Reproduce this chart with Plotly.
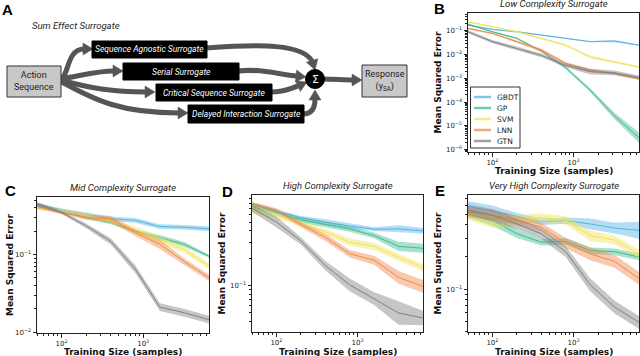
import math
import plotly.graph_objects as go

W, H = 640, 356

# training sizes (samples)
sizes = [50, 100, 200, 400, 800, 1600, 3200, 6400]
models = ["GBDT", "GP", "SVM", "LNN", "GTN"]
colors = {"GBDT": "#55B3E6", "GP": "#3DBB8F", "SVM": "#F2E35A", "LNN": "#F0884A", "GTN": "#808080"}

# mean squared error
low_mse = {
    "GBDT": [0.174, 0.115, 0.091, 0.066, 0.048, 0.035, 0.037, 0.025],
    "GP":   [0.19, 0.091, 0.048, 0.014, 0.0028, 3.2e-4, 2.6e-5, 3.2e-6],
    "SVM":  [0.24, 0.148, 0.091, 0.048, 0.025, 0.0079, 0.005, 0.003],
    "LNN":  [0.126, 0.078, 0.035, 0.0155, 0.0042, 0.0022, 0.0016, 0.00095],
    "GTN":  [0.091, 0.035, 0.018, 0.0093, 0.0035, 0.0019, 0.0017, 0.0011],
}
mid_mse = {
    "GBDT": [0.444, 0.372, 0.331, 0.288, 0.275, 0.229, 0.224, 0.214],
    "GP":   [0.42, 0.363, 0.30, 0.257, 0.20, 0.166, 0.135, 0.095],
    "SVM":  [0.40, 0.363, 0.316, 0.27, 0.209, 0.155, 0.115, 0.071],
    "LNN":  [0.417, 0.347, 0.30, 0.288, 0.19, 0.135, 0.081, 0.05],
    "GTN":  [0.447, 0.347, 0.234, 0.148, 0.065, 0.021, 0.0178, 0.0145],
}
high_mse = {
    "GBDT": [0.78, 0.66, 0.555, 0.50, 0.452, 0.417, 0.42, 0.40],
    "GP":   [0.74, 0.63, 0.525, 0.468, 0.42, 0.355, 0.27, 0.257],
    "SVM":  [0.69, 0.59, 0.48, 0.39, 0.30, 0.27, 0.204, 0.158],
    "LNN":  [0.80, 0.676, 0.468, 0.339, 0.224, 0.19, 0.123, 0.098],
    "GTN":  [0.71, 0.50, 0.31, 0.166, 0.102, 0.072, 0.05, 0.044],
}
vhigh_mse = {
    "GBDT": [0.59, 0.54, 0.48, 0.427, 0.437, 0.407, 0.372, 0.355],
    "GP":   [0.51, 0.44, 0.33, 0.275, 0.28, 0.229, 0.224, 0.20],
    "SVM":  [0.50, 0.427, 0.437, 0.468, 0.44, 0.316, 0.288, 0.214],
    "LNN":  [0.525, 0.49, 0.44, 0.38, 0.27, 0.214, 0.182, 0.126],
    "GTN":  [0.55, 0.49, 0.407, 0.33, 0.224, 0.11, 0.068, 0.049],
}

# half width of the shaded band (decades)
low_band = {
    "GBDT": [0.03, 0.03, 0.03, 0.03, 0.03, 0.03, 0.05, 0.03],
    "GP":   [0.03, 0.03, 0.04, 0.05, 0.06, 0.08, 0.14, 0.22],
    "SVM":  [0.04, 0.04, 0.04, 0.04, 0.05, 0.06, 0.05, 0.04],
    "LNN":  [0.04, 0.04, 0.05, 0.07, 0.06, 0.06, 0.06, 0.05],
    "GTN":  [0.06, 0.07, 0.08, 0.08, 0.08, 0.12, 0.10, 0.08],
}
mid_band = {
    "GBDT": [0.02, 0.02, 0.02, 0.03, 0.03, 0.03, 0.03, 0.03],
    "GP":   [0.02, 0.02, 0.02, 0.02, 0.02, 0.03, 0.03, 0.02],
    "SVM":  [0.03, 0.02, 0.03, 0.03, 0.04, 0.04, 0.04, 0.04],
    "LNN":  [0.03, 0.02, 0.03, 0.04, 0.04, 0.06, 0.04, 0.04],
    "GTN":  [0.03, 0.02, 0.03, 0.04, 0.05, 0.05, 0.05, 0.05],
}
high_band = {
    "GBDT": [0.02, 0.02, 0.02, 0.03, 0.03, 0.02, 0.04, 0.03],
    "GP":   [0.03, 0.03, 0.03, 0.03, 0.03, 0.03, 0.05, 0.05],
    "SVM":  [0.05, 0.03, 0.03, 0.03, 0.04, 0.04, 0.04, 0.04],
    "LNN":  [0.02, 0.02, 0.03, 0.04, 0.04, 0.05, 0.07, 0.07],
    "GTN":  [0.04, 0.06, 0.04, 0.05, 0.07, 0.07, 0.13, 0.08],
}
vhigh_band = {
    "GBDT": [0.05, 0.05, 0.03, 0.03, 0.03, 0.05, 0.05, 0.08],
    "GP":   [0.04, 0.05, 0.04, 0.03, 0.03, 0.03, 0.03, 0.03],
    "SVM":  [0.05, 0.06, 0.05, 0.04, 0.04, 0.05, 0.04, 0.04],
    "LNN":  [0.04, 0.05, 0.04, 0.04, 0.05, 0.06, 0.06, 0.06],
    "GTN":  [0.05, 0.06, 0.05, 0.05, 0.05, 0.06, 0.06, 0.06],
}

panels = [
    # title, mse, band, axis suffix, x domain px, y domain px, y range (log), x title y, y title x
    ("Low Complexity Surrogate", low_mse, low_band, "", (468, 639), (13, 152), (-6.1, -0.25), 171.5, 437),
    ("Mid Complexity Surrogate", mid_mse, mid_band, "2", (37, 209), (197, 333), (-2.01, -0.26), 351.5, 10),
    ("High Complexity Surrogate", high_mse, high_band, "3", (252, 423), (195, 332), (-1.51, -0.004), 351.5, 221),
    ("Very High Complexity Surrogate", vhigh_mse, vhigh_band, "4", (468, 639), (195, 332), (-1.40, -0.12), 351.5, 437),
]


def hex_rgba(h, a):
    h = h.lstrip("#")
    return "rgba(%d,%d,%d,%s)" % (int(h[0:2], 16), int(h[2:4], 16), int(h[4:6], 16), a)


def px(x):
    return x / W


def py(y):
    return 1 - y / H


def sup(n):
    return "10<sup>%s</sup>" % str(n).replace("-", "\u2212")


def note(x, y, text, font, xanchor="center", yanchor="middle", **kw):
    fig.add_annotation(x=px(x), y=py(y), xref="paper", yref="paper", text=text,
                       showarrow=False, font=font, xanchor=xanchor, yanchor=yanchor, **kw)


fig = go.Figure()
TICKF = dict(family="DejaVu Sans", size=7, color="#222")
BOLDF = dict(family="DejaVu Sans", size=9, color="#111", weight="bold")
NARROW = "Liberation Sans Narrow, Roboto"
TITLEF = dict(family=NARROW, size=9.5, color="#222")

xminor = [m * 10 ** e for e in (1, 2, 3) for m in range(2, 10) if 50 <= m * 10 ** e <= 6400]

for title, mse, band, ax, (x0, x1), (y0, y1), yr, xty, ytx in panels:
    xa, ya = "x" + ax, "y" + ax
    for m in models:
        lo = [v * 10 ** (-w) for v, w in zip(mse[m], band[m])]
        hi = [v * 10 ** w for v, w in zip(mse[m], band[m])]
        fig.add_trace(go.Scatter(x=sizes + sizes[::-1], y=hi + lo[::-1], mode="lines", fill="toself",
                                 fillcolor=hex_rgba(colors[m], 0.45), line=dict(width=0),
                                 hoverinfo="skip", showlegend=False, xaxis=xa, yaxis=ya))
        fig.add_trace(go.Scatter(x=sizes, y=mse[m], mode="lines", name=m,
                                 line=dict(color=colors[m], width=1),
                                 showlegend=False, xaxis=xa, yaxis=ya))
    lo_e, hi_e = math.floor(yr[0]), math.ceil(yr[1])
    yt = [10.0 ** e for e in range(lo_e, hi_e + 1) if yr[0] <= e <= yr[1]]
    ytxt = [sup(e) for e in range(lo_e, hi_e + 1) if yr[0] <= e <= yr[1]]
    yminor = [m * 10.0 ** e for e in range(lo_e, hi_e + 1) for m in range(2, 10)
              if yr[0] <= math.log10(m * 10.0 ** e) <= yr[1]]
    common = dict(type="log", showline=True, linecolor="#222", linewidth=1, mirror=True,
                  ticks="outside", ticklen=3.5, tickwidth=1, tickcolor="#222", automargin=False,
                  showgrid=False, zeroline=False, tickfont=TICKF)
    fig.update_layout({
        "xaxis" + ax: dict(common, domain=[px(x0), px(x1)], anchor=ya,
                           range=[1.699, 3.806], tickvals=[100, 1000], ticktext=[sup(2), sup(3)],
                           minor=dict(tickvals=xminor, ticks="outside", ticklen=2, tickcolor="#222")),
        "yaxis" + ax: dict(common, domain=[py(y1), py(y0)], anchor=xa,
                           range=list(yr), tickvals=yt, ticktext=ytxt,
                           minor=dict(tickvals=yminor, ticks="outside", ticklen=2, tickcolor="#222")),
    })
    note((x0 + x1) / 2, y0 - 2, "<i>%s</i>" % title, TITLEF, yanchor="bottom")
    note((x0 + x1) / 2, xty, "Training Size (samples)", BOLDF)
    note(ytx, (y0 + y1) / 2, "Mean Squared Error", BOLDF, textangle=-90)

# panel letters
for letter, lx, ly in [("A", 7, 9), ("B", 439, 8), ("C", 10, 190), ("D", 227, 191), ("E", 440, 190)]:
    note(lx, ly, "<b>%s</b>" % letter, dict(family="Liberation Sans", size=15, color="#000"))

shapes = []


def P(x, y):
    return "%.4f,%.4f" % (px(x), py(y))


def box(x0, y0, x1, y1, fill, line, width=1):
    shapes.append(dict(type="rect", xref="paper", yref="paper", x0=px(x0), x1=px(x1),
                       y0=py(y1), y1=py(y0), fillcolor=fill, line=dict(color=line, width=width)))


# legend of panel B
box(470.5, 87, 520, 148, "white", "#333")
for i, m in enumerate(models):
    ly = 97 + i * 11
    shapes.append(dict(type="line", xref="paper", yref="paper", x0=px(474), x1=px(491),
                       y0=py(ly), y1=py(ly), line=dict(color=hex_rgba(colors[m], 0.75), width=2.5)))
    note(495, ly, m, dict(family="DejaVu Sans", size=7.5, color="#222"), xanchor="left")

# ---- panel A: schematic ----
DARK = "#555555"


def curve(pts):
    a, b, c, d = pts
    shapes.append(dict(type="path", xref="paper", yref="paper",
                       path="M %s C %s %s %s" % (P(*a), P(*b), P(*c), P(*d)),
                       line=dict(color=DARK, width=5)))


def head(tx, ty, dx, dy, L=10, w=6):
    n = (dx * dx + dy * dy) ** 0.5
    dx, dy = dx / n, dy / n
    bx, by = tx - L * dx, ty - L * dy
    shapes.append(dict(type="path", xref="paper", yref="paper",
                       path="M %s L %s L %s Z" % (P(tx, ty), P(bx - w * dy, by + w * dx), P(bx + w * dy, by - w * dx)),
                       fillcolor=DARK, line=dict(color=DARK, width=0.5)))


# arrows from action sequence
curve([(60, 79), (69, 78), (66, 49), (84, 49)]); head(93, 49, 1, 0)
curve([(60, 79), (80, 76), (96, 71), (114, 71)]); head(123, 71, 1, 0)
curve([(60, 80), (90, 88), (112, 92), (146, 92)]); head(155, 92, 1, 0)
curve([(60, 81), (96, 101), (122, 113), (179, 113)]); head(188, 113, 1, 0)
# arrows into the sum
curve([(206, 48), (262, 44), (302, 44), (312, 61)]); head(315, 70, 0.3, 1)
curve([(238, 71), (262, 68), (280, 75), (297, 76)]); head(306, 77, 1, 0.1)
curve([(271, 92), (285, 92), (291, 88), (298, 86)]); head(307, 82, 1, -0.45)
curve([(303, 114), (313, 114), (315, 106), (315, 99)]); head(315, 90, 0, -1)
curve([(323, 79), (335, 79), (343, 80), (353, 80)]); head(362, 80, 1, 0)

box(7, 66, 61, 97, "#c8c8c8", "#333")
box(362, 65, 407, 97, "#c8c8c8", "#333")
blocks = [("Sequence Agnostic Surrogate", 92, 41, 207, 58),
          ("Serial Surrogate", 123, 63, 239, 80),
          ("Critical Sequence Surrogate", 156, 84, 272, 101),
          ("Delayed Interaction Surrogate", 188, 105, 304, 123)]
for label, bx0, by0, bx1, by1 in blocks:
    box(bx0, by0, bx1, by1, "#000", "#000")
    note((bx0 + bx1) / 2, (by0 + by1) / 2, "<i>%s</i>" % label, dict(family=NARROW, size=8.5, color="#fff"))
shapes.append(dict(type="circle", xref="paper", yref="paper", x0=px(305.5), x1=px(324.5),
                   y0=py(88.5), y1=py(69.5), fillcolor="#000", line=dict(color="#000", width=1)))
note(315, 79, "\u03a3", dict(family="DejaVu Sans", size=11, color="#fff"))
note(34, 81.5, "Action<br>Sequence", dict(family=NARROW, size=9, color="#222"))
note(384.5, 81, "Response<br>(y<sub>SA</sub>)", dict(family=NARROW, size=9, color="#222"))
note(30, 25, "<i>Sum Effect Surrogate</i>", dict(family=NARROW, size=9.5, color="#222"), xanchor="left")

fig.update_layout(
    width=W, height=H, margin=dict(l=0, r=0, t=0, b=0, autoexpand=False),
    paper_bgcolor="white", plot_bgcolor="white", shapes=shapes, showlegend=False,
)

fig.write_html("out.html", config={"displayModeBar": False},
               post_script="document.body.style.margin='0';")
